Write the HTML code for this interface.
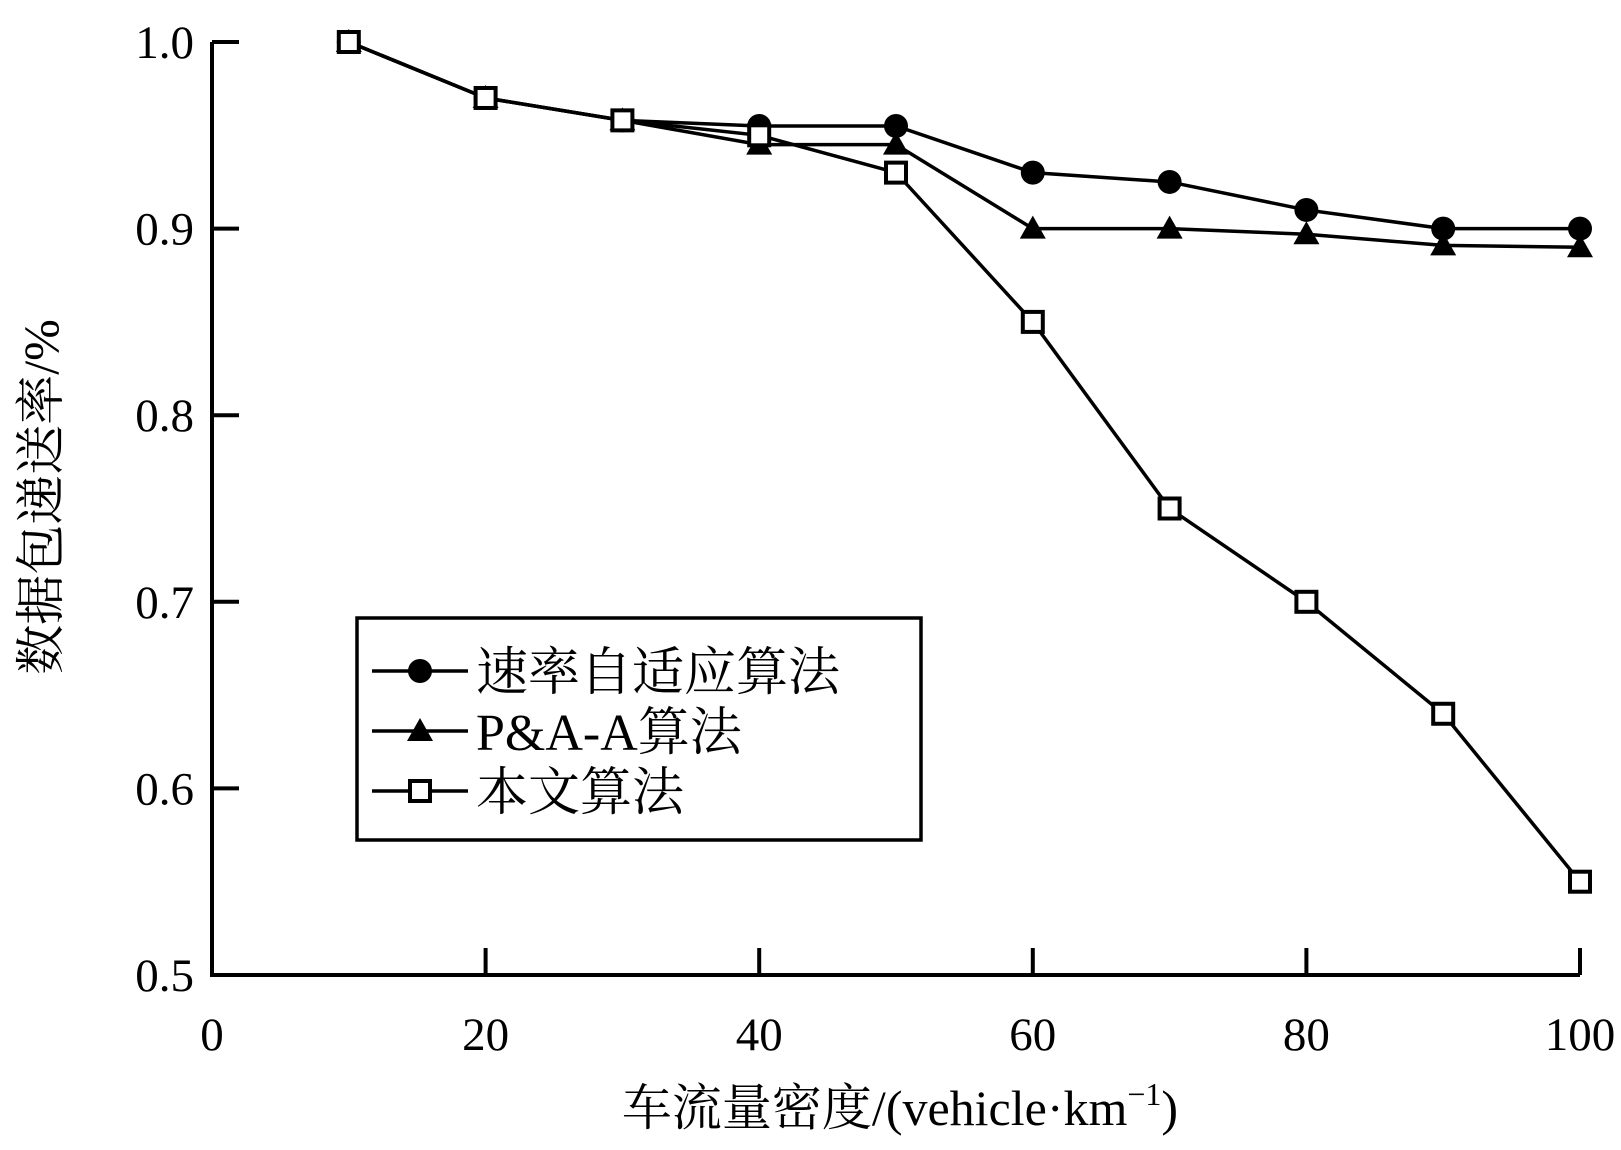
<!DOCTYPE html>
<html><head><meta charset="utf-8"><style>
body{margin:0;background:#fff}
svg text{font-family:"Liberation Serif","Noto Serif CJK SC","Noto Sans CJK SC",serif;fill:#000}
</style></head><body>
<svg id="c" width="1621" height="1145" xmlns="http://www.w3.org/2000/svg"></svg>
<script>
const xValues=[10,20,30,40,50,60,70,80,90,100];
const rateAdaptive=[1,0.97,0.958,0.955,0.955,0.93,0.925,0.91,0.9,0.9];
const paa=[1,0.97,0.958,0.945,0.945,0.9,0.9,0.897,0.891,0.89];
const proposed=[1,0.97,0.958,0.95,0.93,0.85,0.75,0.7,0.64,0.55];
const xTicks=[0,20,40,60,80,100];
const yTicks=[0.5,0.6,0.7,0.8,0.9,1.0];
const yTickLabels=["0.5","0.6","0.7","0.8","0.9","1.0"];
const svg=document.getElementById('c');
const NS='http://www.w3.org/2000/svg';
const X0=212,X1=1580,Y0=975,Y1=42;
const sx=v=>X0+(v-0)/100*(X1-X0);
const sy=v=>Y0-(v-0.5)/0.5*(Y0-Y1);
function el(t,a,p){const e=document.createElementNS(NS,t);for(const k in a)e.setAttribute(k,a[k]);(p||svg).appendChild(e);return e;}
// axes
let ax=el('path',{d:`M${X0} ${Y1} V${Y0} H${X1}`,fill:'none',stroke:'#000','stroke-width':4});


xTicks.forEach(t=>{
 let l=el('line',{x1:sx(t),x2:sx(t),y1:Y0,y2:Y0-27,stroke:'#000','stroke-width':4});
 
 
 let tx=el('text',{x:sx(t),y:Y0+75,'text-anchor':'middle','font-size':47});
 tx.textContent=t;
 
 
});
yTicks.forEach((t,i)=>{
 let l=el('line',{x1:X0,x2:X0+27,y1:sy(t),y2:sy(t),stroke:'#000','stroke-width':4});
 
 
 let tx=el('text',{x:X0-18,y:sy(t)+16,'text-anchor':'end','font-size':47});
 tx.textContent=yTickLabels[i];
 
 
});
function series(vals,name,marker){
 const g=el('g',{});
 
 
 el('polyline',{points:vals.map((v,i)=>sx(xValues[i])+','+sy(v)).join(' '),fill:'none',stroke:'#000','stroke-width':3.5},g);
 vals.forEach((v,i)=>{marker(g,sx(xValues[i]),sy(v));});
}
const circ=(g,x,y)=>{let m=el('circle',{cx:x,cy:y,r:12,fill:'#000'},g);};
const tri=(g,x,y)=>{let m=el('polygon',{points:`${x},${y-13} ${x-13},${y+10} ${x+13},${y+10}`,fill:'#000'},g);};
const sq=(g,x,y)=>{let m=el('rect',{x:x-10,y:y-10,width:20,height:20,fill:'#fff',stroke:'#000','stroke-width':4},g);};
series(rateAdaptive,'series-rate-adaptive',circ);
series(paa,'series-paa',tri);
series(proposed,'series-proposed',sq);
// legend
const lg=el('g',{});


el('rect',{x:357,y:618,width:564,height:222,fill:'#fff',stroke:'#000','stroke-width':3.5},lg);
const items=[['速率自适应算法',circ],['P&A-A算法',tri],['本文算法',sq]];
items.forEach((it,i)=>{
 const y=671+i*60;
 el('line',{x1:372,x2:468,y1:y,y2:y,stroke:'#000','stroke-width':3.5},lg);
 it[1](lg,420,y);
 let t=el('text',{x:476,y:y+19,'font-size':52},lg);
 t.textContent=it[0];
 
 
});
// titles
let xt=el('text',{x:900,y:1125,'text-anchor':'middle','font-size':50});
xt.innerHTML='车流量密度/(vehicle·km<tspan dy="-20" font-size="32">−1</tspan><tspan dy="20">)</tspan>';


let yt=el('text',{x:0,y:0,'text-anchor':'middle','font-size':50,transform:'translate(58,497) rotate(-90)'});
yt.textContent='数据包递送率/%';


</script>
</body></html>
